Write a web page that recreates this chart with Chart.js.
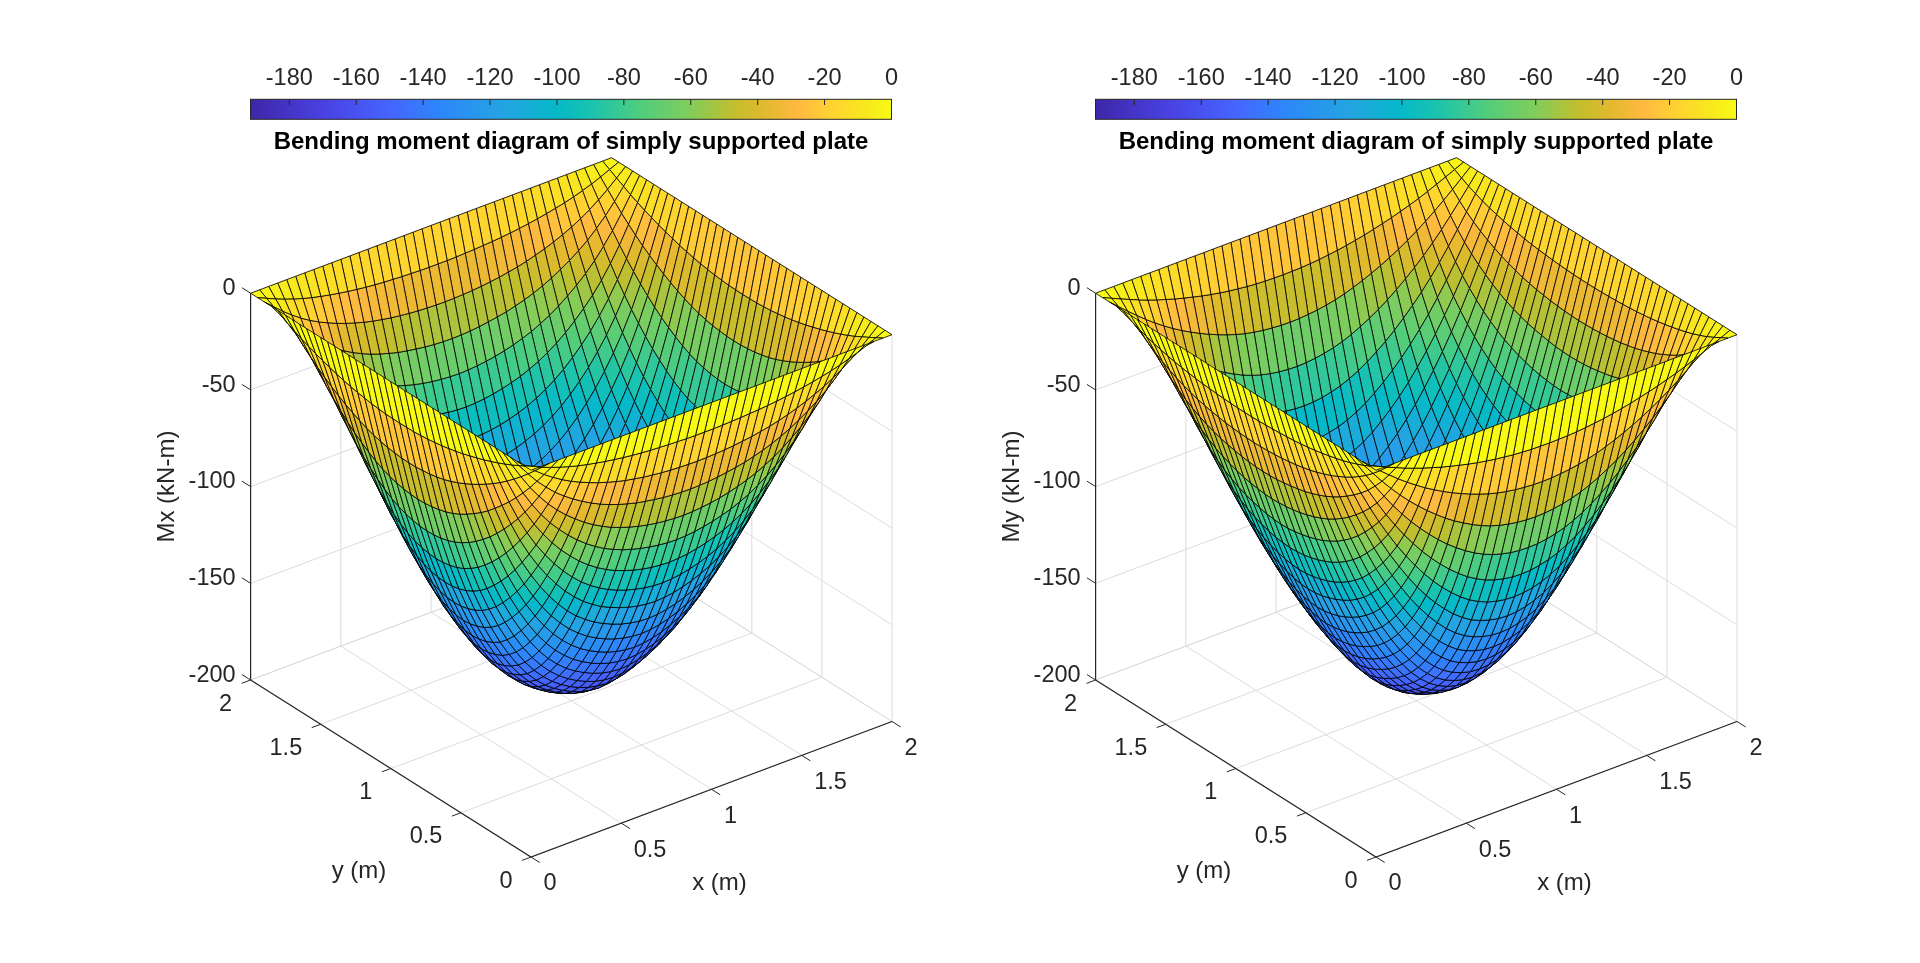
<!DOCTYPE html>
<html>
<head>
<meta charset="utf-8">
<title>Bending moment diagram of simply supported plate</title>
<script src="https://cdn.jsdelivr.net/npm/chart.js@4"></script>
<style>
    html, body { margin: 0; background: #fff; width: 1920px; height: 963px; overflow: hidden; }
    .box { position: absolute; }
</style>
</head>
<body>
<div class="box" style="left:0;top:0;width:960px;height:963px"><canvas id="plotMx"></canvas></div>
<div class="box" style="left:845px;top:0;width:960px;height:963px"><canvas id="plotMy"></canvas></div>
<div class="box" style="left:230px;top:50px;width:682px;height:110px"><canvas id="barMx"></canvas></div>
<div class="box" style="left:1075px;top:50px;width:682px;height:110px"><canvas id="barMy"></canvas></div>
<script>
    const titleText = 'Bending moment diagram of simply supported plate';
    const xTicks = [0, 0.5, 1, 1.5, 2];
    const yTicks = [0, 0.5, 1, 1.5, 2];
    const zTicks = [0, -50, -100, -150, -200];
    const barTicks = [-180, -160, -140, -120, -100, -80, -60, -40, -20, 0];
    const barRange = [-191.6, 0];

    // plate mesh, 41 lines each way
    const meshPos = [0, 0.05, 0.1, 0.15, 0.2, 0.25, 0.3, 0.35, 0.4, 0.45, 0.5, 0.55, 0.6, 0.65, 0.7, 0.75, 0.8, 0.85, 0.9, 0.95, 1,
        1.05, 1.1, 1.15, 1.2, 1.25, 1.3, 1.35, 1.4, 1.45, 1.5, 1.55, 1.6, 1.65, 1.7, 1.75, 1.8, 1.85, 1.9, 1.95, 2];

    // |Mx| for one quarter of the plate, rows are y (0..1), columns are x (0..1).
    // Plate is symmetric about x=1 and y=1, and My is the same surface with x and y swapped.
    const mxQuarter = [
        [0,0,0,0,0,0,0,0,0,0,0,0,0,0,0,0,0,0,0,0,0],
        [0,2.1,4.2,6.1,7.7,9.2,10.5,11.6,12.6,13.5,14.3,15.0,15.6,16.1,16.5,16.8,17.1,17.3,17.5,17.6,17.6],
        [0,4.2,8.3,12.0,15.3,18.2,20.8,23.0,25.0,26.8,28.3,29.7,30.9,31.8,32.7,33.3,33.9,34.3,34.6,34.8,34.9],
        [0,6.2,12.2,17.8,22.6,27.0,30.7,34.0,36.9,39.6,41.9,43.9,45.6,47.0,48.3,49.2,50.0,50.7,51.2,51.5,51.6],
        [0,8.2,16.0,23.3,29.6,35.3,40.2,44.5,48.3,51.8,54.8,57.4,59.7,61.5,63.1,64.4,65.5,66.3,66.9,67.3,67.5],
        [0,10.0,19.5,28.4,36.2,43.1,49.1,54.3,59.0,63.2,66.9,70.1,72.9,75.1,77.1,78.6,79.9,80.9,81.7,82.2,82.4],
        [0,11.7,22.8,33.2,42.3,50.3,57.3,63.5,69.0,73.8,78.2,81.9,85.1,87.8,90.1,91.9,93.4,94.6,95.5,96.0,96.3],
        [0,13.2,25.9,37.6,48.0,57.1,65.1,72.0,78.3,83.8,88.7,93.0,96.6,99.6,102.2,104.3,106.0,107.3,108.4,109.0,109.3],
        [0,14.7,28.7,41.7,53.2,63.3,72.1,79.8,86.7,92.8,98.3,103.0,107.1,110.4,113.3,115.5,117.4,118.9,120.1,120.8,121.1],
        [0,16.0,31.3,45.5,58.0,69.1,78.7,87.1,94.7,101.4,107.3,112.5,116.9,120.5,123.6,126.1,128.2,129.9,131.1,131.9,132.2],
        [0,17.2,33.7,49.1,62.5,74.4,84.8,93.9,102.0,109.2,115.6,121.1,125.9,129.8,133.2,135.9,138.1,139.9,141.2,142.0,142.4],
        [0,18.4,35.9,52.3,66.6,79.2,90.3,100.0,108.6,116.3,123.1,129.0,134.1,138.3,141.9,144.7,147.1,149.0,150.4,151.3,151.7],
        [0,19.4,37.9,55.1,70.2,83.6,95.3,105.5,114.6,122.7,129.9,136.1,141.5,145.9,149.7,152.7,155.2,157.2,158.7,159.6,160.0],
        [0,20.3,39.7,57.7,73.5,87.5,99.7,110.4,119.9,128.4,135.9,142.5,148.1,152.7,156.7,159.8,162.4,164.5,166.1,167.1,167.5],
        [0,21.1,41.3,60.0,76.4,91.0,103.7,114.8,124.7,133.5,141.3,148.1,153.9,158.8,162.8,166.1,168.8,171.0,172.7,173.7,174.1],
        [0,21.7,42.6,61.9,78.8,93.8,107.0,118.4,128.6,137.7,145.8,152.8,158.8,163.8,168.0,171.4,174.2,176.4,178.1,179.1,179.6],
        [0,22.3,43.6,63.4,80.8,96.2,109.6,121.4,131.8,141.2,149.4,156.6,162.8,167.9,172.2,175.7,178.5,180.8,182.6,183.6,184.1],
        [0,22.7,44.4,64.5,82.2,97.9,111.6,123.5,134.2,143.7,152.1,159.4,165.7,170.9,175.3,178.8,181.7,184.1,185.8,186.9,187.4],
        [0,23.0,44.9,65.3,83.3,99.1,113.0,125.0,135.8,145.4,153.9,161.4,167.7,173.0,177.4,181.0,183.9,186.3,188.1,189.2,189.7],
        [0,23.1,45.3,65.8,83.9,99.9,113.8,126.0,136.9,146.5,155.1,162.6,169.0,174.3,178.8,182.3,185.3,187.7,189.5,190.6,191.1],
        [0,23.2,45.4,66.0,84.1,100.1,114.1,126.3,137.2,146.9,155.5,163.0,169.4,174.7,179.2,182.8,185.8,188.2,190.0,191.1,191.6]
    ];

    // colour stops: [moment, r, g, b]
    const colorStops = [
        [-191.6, 62, 38, 168], [-170, 73, 65, 225], [-150, 70, 100, 255], [-135, 45, 135, 250],
        [-115, 35, 165, 225], [-100, 5, 185, 200], [-90, 25, 195, 175], [-75, 80, 205, 125],
        [-60, 130, 205, 90], [-47, 195, 190, 45], [-38, 225, 185, 45], [-28, 255, 185, 65],
        [-18, 255, 210, 50], [-8, 248, 232, 30], [0, 248, 250, 20]
    ];
    // the surface itself stays lighter than the colorbar at the bottom of the bowl
    const surfaceStops = [
        [-191.6, 66, 72, 240], [-165, 68, 100, 255], [-140, 45, 135, 250],
        [-115, 35, 165, 225], [-100, 5, 185, 200], [-90, 25, 195, 175], [-75, 80, 205, 125],
        [-60, 130, 205, 90], [-47, 195, 190, 45], [-38, 225, 185, 45], [-28, 255, 185, 65],
        [-18, 255, 210, 50], [-8, 248, 232, 30], [0, 248, 250, 20]
    ];

    const textColor = '#262626';
    const gridColor = '#dcdcdc';
    const fontFamily = '"Liberation Sans", Arial, sans-serif';

    // Function to get the surface colour of a moment value
    function momentColor(v) {
        let k = 1;
        while (k < surfaceStops.length - 1 && surfaceStops[k][0] < v) k++;
        const a = surfaceStops[k - 1], b = surfaceStops[k];
        const t = Math.min(1, Math.max(0, (v - a[0]) / (b[0] - a[0])));
        const c = [1, 2, 3].map(n => Math.round(a[n] + (b[n] - a[n]) * t));
        return `rgb(${c[0]},${c[1]},${c[2]})`;
    }

    // The 3D box seen in parallel projection, flattened onto the chart's x/y scales
    function viewX(x, y) { return 531 + 180.5 * x - 140.2 * y; }
    function viewY(x, y, z) { return 857 - 67.75 * x - 88.5 * y - 1.934 * (z + 200); }
    function view(x, y, z) { return { x: viewX(x, y), y: viewY(x, y, z) }; }
    function depth(x, y, z) { return -553 * x - 715 * y + 4.9 * z; }

    function mxAt(i, j) { return -mxQuarter[Math.min(j, 40 - j)][Math.min(i, 40 - i)]; }
    function myAt(i, j) { return mxAt(j, i); }

    function lineSet(points, color, width) {
        return {
            data: points, showLine: true, fill: false, pointRadius: 0, pointHitRadius: 0,
            borderColor: color, borderWidth: width, tension: 0
        };
    }

    // Builds all datasets, back to front
    function buildDatasets(surfaceAt) {
        const back = [];
        // floor and wall grid
        xTicks.forEach(t => {
            back.push(lineSet([view(t, 0, -200), view(t, 2, -200), view(t, 2, 0)], gridColor, 1));
        });
        yTicks.forEach(t => {
            back.push(lineSet([view(0, t, -200), view(2, t, -200), view(2, t, 0)], gridColor, 1));
        });
        zTicks.forEach(t => {
            back.push(lineSet([view(0, 2, t), view(2, 2, t), view(2, 0, t)], gridColor, 1));
        });

        // one filled quad per mesh cell, coloured from its first corner, far cells first
        const cells = [];
        for (let j = 0; j < 40; j++) {
            for (let i = 0; i < 40; i++) {
                const corners = [[i, j], [i + 1, j], [i + 1, j + 1], [i, j + 1]];
                let d = 0;
                const pts = corners.map(c => {
                    const z = surfaceAt(c[0], c[1]);
                    d += depth(meshPos[c[0]], meshPos[c[1]], z);
                    return view(meshPos[c[0]], meshPos[c[1]], z);
                });
                pts.push(pts[0]);
                cells.push({ d: d, pts: pts, color: momentColor(surfaceAt(i, j)) });
            }
        }
        cells.sort((a, b) => a.d - b.d);
        cells.forEach(c => {
            const set = lineSet(c.pts, 'rgba(0,0,0,0.9)', 0.9);
            set.fill = 'shape';
            set.backgroundColor = c.color;
            back.push(set);
        });

        // axis lines and tick marks
        const axisColor = '#262626';
        back.push(lineSet([view(0, 2, -200), view(0, 0, -200), view(2, 0, -200)], axisColor, 1.2));
        back.push(lineSet([view(0, 2, -200), view(0, 2, 0)], axisColor, 1.2));
        xTicks.forEach(t => back.push(lineSet([view(t, 0, -200), view(t, -0.062, -200)], axisColor, 1)));
        yTicks.forEach(t => back.push(lineSet([view(0, t, -200), view(-0.05, t, -200)], axisColor, 1)));
        zTicks.forEach(t => back.push(lineSet([view(0, 2, t), view(0, 2.062, t)], axisColor, 1)));

        // Chart.js paints the first dataset last
        return back.reverse();
    }

    // Tick labels and axis titles of the 3D box
    const boxText = {
        id: 'boxText',
        afterDraw(chart, args, opts) {
            const { ctx, scales } = chart;
            const put = (txt, vx, vy, dx, dy, align) => {
                ctx.textAlign = align;
                ctx.fillText(txt, scales.x.getPixelForValue(vx) + dx, scales.y.getPixelForValue(vy) + dy);
            };
            ctx.save();
            ctx.fillStyle = textColor;
            ctx.textBaseline = 'middle';
            ctx.font = `23.5px ${fontFamily}`;
            xTicks.forEach(t => put(String(t), viewX(t, 0), viewY(t, 0, -200), 12.5, 27, 'left'));
            yTicks.forEach(t => put(String(t), viewX(0, t), viewY(0, t, -200), -18.5, 24.2, 'right'));
            zTicks.forEach(t => put(String(t), viewX(0, 2), viewY(0, 2, t), -15, -4.8, 'right'));
            ctx.font = `24px ${fontFamily}`;
            put('x (m)', viewX(1, 0), viewY(1, 0, -200), 8, 94, 'center');
            put('y (m)', viewX(0, 1), viewY(0, 1, -200), -31.8, 103, 'center');
            ctx.translate(scales.x.getPixelForValue(viewX(0, 2)) - 83, scales.y.getPixelForValue(viewY(0, 2, -100)));
            ctx.rotate(-Math.PI / 2);
            ctx.textAlign = 'center';
            ctx.fillText(opts.label, 0, 0);
            ctx.restore();
        }
    };

    function makePlot(id, label, surfaceAt) {
        new Chart(document.getElementById(id), {
            type: 'scatter',
            data: { datasets: buildDatasets(surfaceAt) },
            options: {
                responsive: true,
                maintainAspectRatio: false,
                animation: false,
                events: [],
                layout: { padding: 0, autoPadding: false },
                scales: {
                    x: { type: 'linear', display: false, min: 0, max: 960 },
                    y: { type: 'linear', display: false, min: 0, max: 963, reverse: true }
                },
                plugins: {
                    legend: { display: false },
                    tooltip: { enabled: false },
                    boxText: { label: label }
                }
            },
            plugins: [boxText]
        });
    }

    // Frame and inward tick marks of the colorbar
    const barFrame = {
        id: 'barFrame',
        afterDraw(chart) {
            const { ctx, chartArea: a, scales } = chart;
            ctx.save();
            ctx.strokeStyle = '#262626';
            ctx.lineWidth = 1;
            ctx.strokeRect(a.left, a.top, a.right - a.left, a.bottom - a.top);
            barTicks.forEach(t => {
                const px = scales.x.getPixelForValue(t);
                ctx.beginPath();
                ctx.moveTo(px, a.top);
                ctx.lineTo(px, a.top + 5.7);
                ctx.stroke();
            });
            ctx.restore();
        }
    };

    function barGradient(context) {
        const { ctx, chartArea: a, scales } = context.chart;
        if (!a) return '#888';
        const g = ctx.createLinearGradient(a.left, 0, a.right, 0);
        colorStops.forEach(s => {
            const t = (scales.x.getPixelForValue(s[0]) - a.left) / (a.right - a.left);
            g.addColorStop(Math.min(1, Math.max(0, t)), `rgb(${s[1]},${s[2]},${s[3]})`);
        });
        return g;
    }

    function makeBar(id) {
        new Chart(document.getElementById(id), {
            type: 'bar',
            data: {
                labels: ['moment'],
                datasets: [{
                    data: [barRange],
                    backgroundColor: barGradient,
                    barPercentage: 1,
                    categoryPercentage: 1
                }]
            },
            options: {
                indexAxis: 'y',
                responsive: true,
                maintainAspectRatio: false,
                animation: false,
                events: [],
                layout: { padding: { left: 20.5, right: 20.5, top: 0, bottom: 0 }, autoPadding: false },
                scales: {
                    x: {
                        type: 'linear',
                        position: 'top',
                        min: barRange[0],
                        max: barRange[1],
                        grid: { display: false, drawTicks: false },
                        border: { display: false },
                        afterBuildTicks(scale) { scale.ticks = barTicks.map(v => ({ value: v })); },
                        afterFit(scale) { scale.height = 49.3; },
                        ticks: {
                            autoSkip: false, maxRotation: 0, padding: 6.3, color: textColor,
                            font: { family: fontFamily, size: 23.5 }
                        }
                    },
                    y: { display: false }
                },
                plugins: {
                    legend: { display: false },
                    tooltip: { enabled: false },
                    title: {
                        display: true,
                        position: 'bottom',
                        text: titleText,
                        color: '#000',
                        padding: { top: 8.3, bottom: 3.6 },
                        font: { family: fontFamily, size: 24, weight: 'bold', lineHeight: 1.2 }
                    }
                }
            },
            plugins: [barFrame]
        });
    }

    makePlot('plotMx', 'Mx (kN-m)', mxAt);
    makePlot('plotMy', 'My (kN-m)', myAt);
    makeBar('barMx');
    makeBar('barMy');
</script>
</body>
</html>
